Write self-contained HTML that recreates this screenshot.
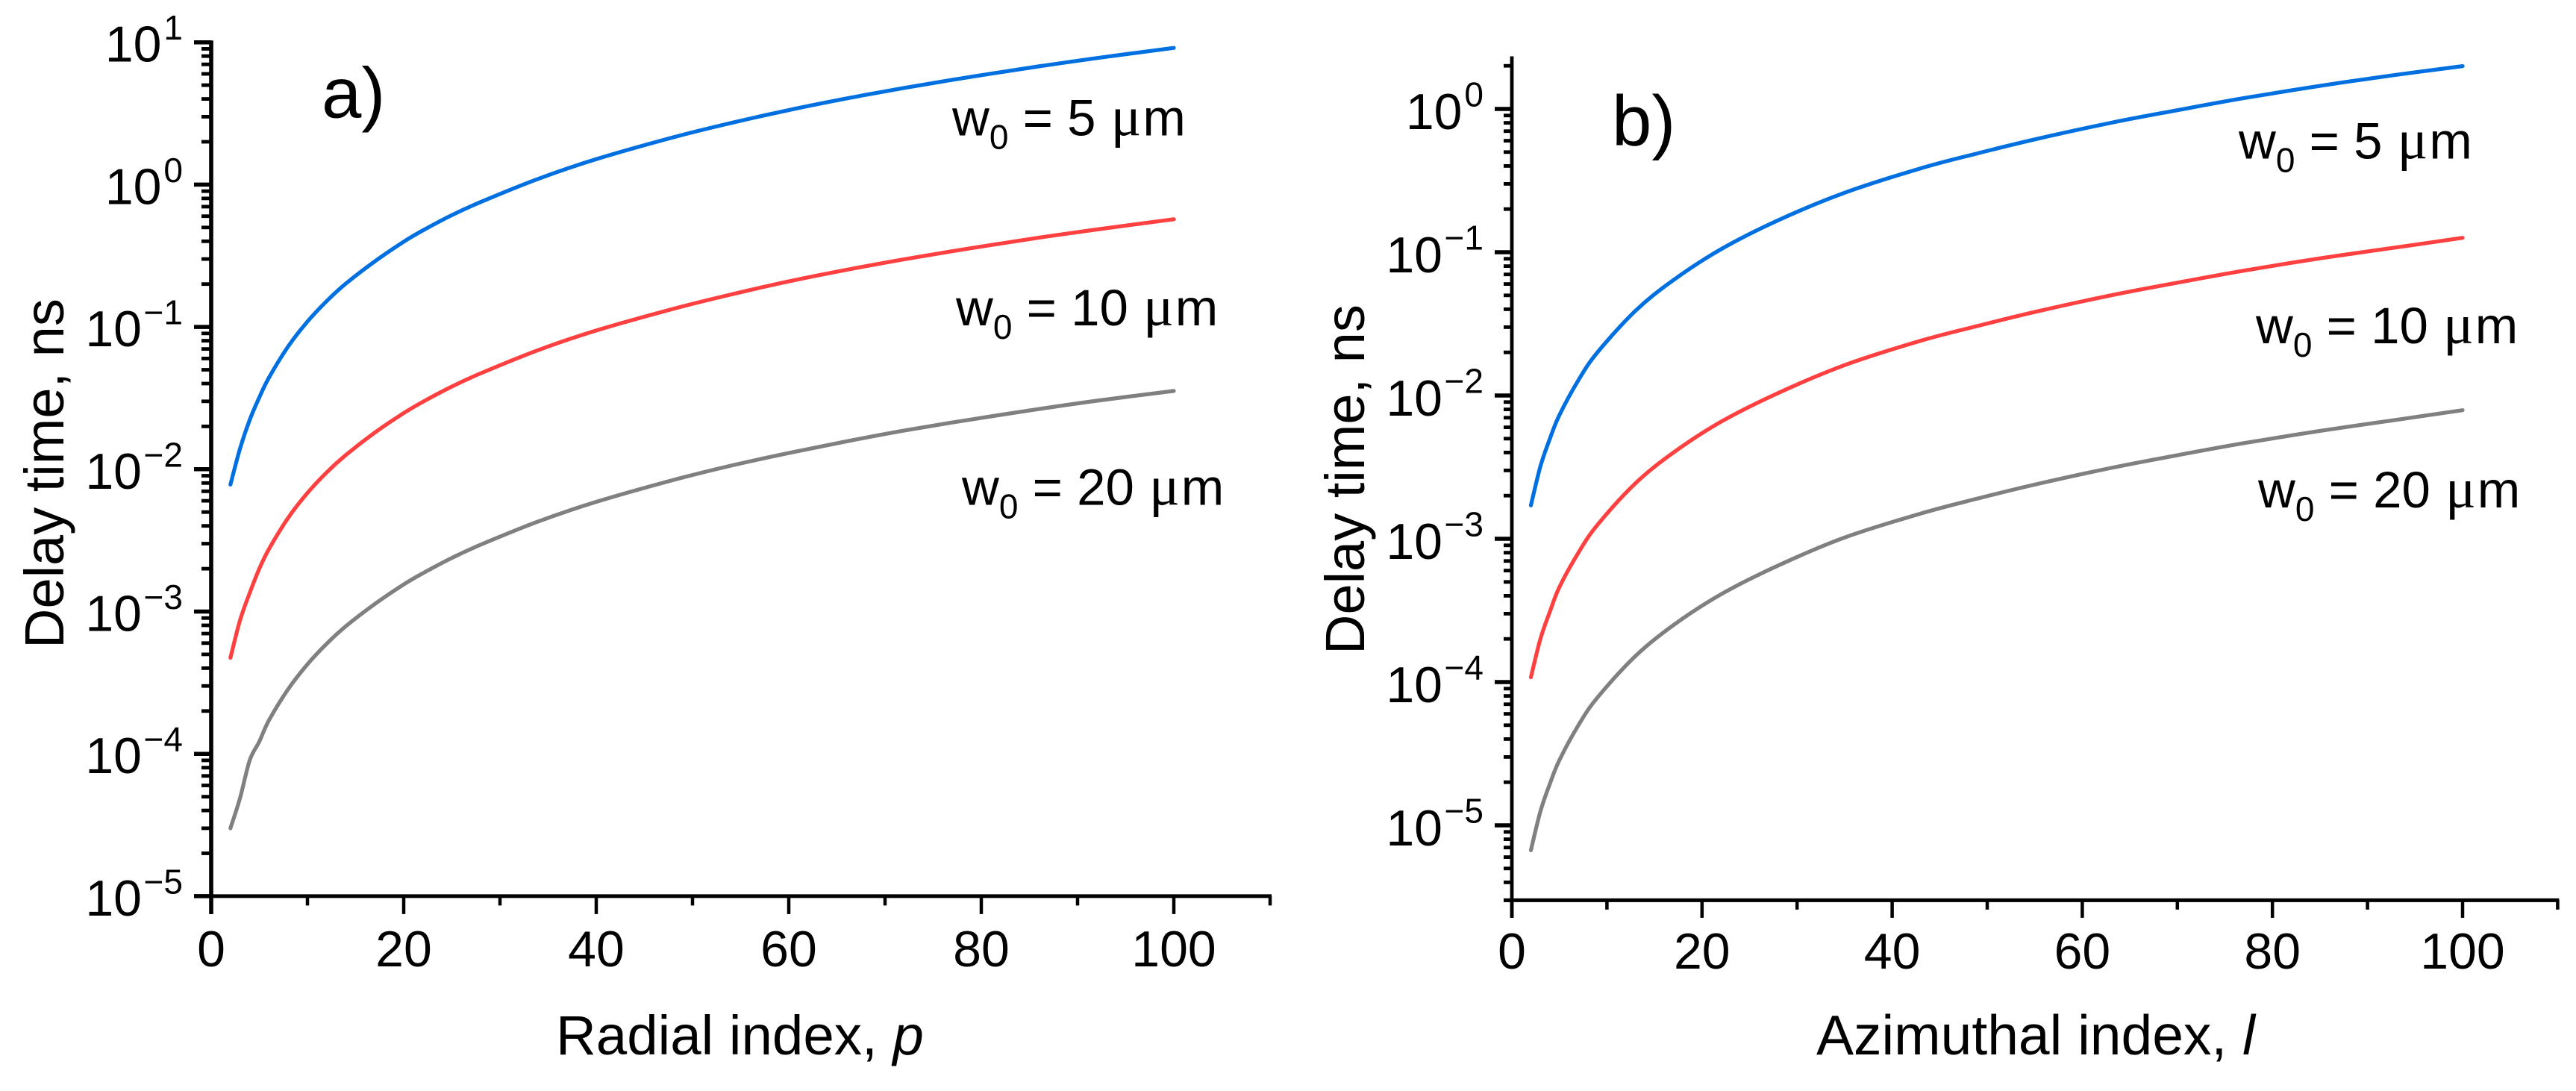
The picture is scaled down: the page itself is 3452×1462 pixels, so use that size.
<!DOCTYPE html>
<html lang="en">
<head>
<meta charset="utf-8">
<title>Delay time versus mode index</title>
<style>
html,body{margin:0;padding:0;background:#fff;}
svg{display:block;}
text{font-family:"Liberation Sans",sans-serif;fill:#000;white-space:pre;}
.mu{font-family:"Liberation Serif",serif;font-size:76px;}
.um{font-size:69px;}
</style>
</head>
<body>
<svg id="figure" xmlns="http://www.w3.org/2000/svg" width="3452" height="1462" viewBox="0 0 3452 1462">
<rect x="0" y="0" width="3452" height="1462" fill="#fff"/>
<g id="panel-a"></g>
<g id="panel-b"></g>

<text x="431" y="157.5" font-size="96">a)</text>
<text x="2160" y="195" font-size="96">b)</text>

<text x="745" y="1413" font-size="74.5">Radial index, <tspan font-style="italic">p</tspan></text>
<text x="2434" y="1413" font-size="75">Azimuthal index, <tspan font-style="italic">l</tspan></text>

<text transform="translate(85,869) rotate(-90)" font-size="74">Delay time, ns</text>
<text transform="translate(1828,877) rotate(-90)" font-size="74">Delay time, ns</text>

<text x="1276" y="181.5" font-size="69">w<tspan font-size="46" dy="18">0</tspan><tspan dy="-18"> = 5 </tspan><tspan class="mu" dx="1">μ</tspan><tspan class="um" dx="2">m</tspan></text>
<text x="1281" y="436" font-size="69">w<tspan font-size="46" dy="18">0</tspan><tspan dy="-18"> = 10 </tspan><tspan class="mu" dx="1">μ</tspan><tspan class="um" dx="2">m</tspan></text>
<text x="1289" y="676.5" font-size="69">w<tspan font-size="46" dy="18">0</tspan><tspan dy="-18"> = 20 </tspan><tspan class="mu" dx="1">μ</tspan><tspan class="um" dx="2">m</tspan></text>

<text x="3000" y="212.5" font-size="69">w<tspan font-size="46" dy="18">0</tspan><tspan dy="-18"> = 5 </tspan><tspan class="mu" dx="1">μ</tspan><tspan class="um" dx="2">m</tspan></text>
<text x="3023" y="460" font-size="69">w<tspan font-size="46" dy="18">0</tspan><tspan dy="-18"> = 10 </tspan><tspan class="mu" dx="1">μ</tspan><tspan class="um" dx="2">m</tspan></text>
<text x="3026" y="680" font-size="69">w<tspan font-size="46" dy="18">0</tspan><tspan dy="-18"> = 20 </tspan><tspan class="mu" dx="1">μ</tspan><tspan class="um" dx="2">m</tspan></text>
</svg>

<script>
// Shared x-axis tick values
const xMajorTicks = [0, 20, 40, 60, 80, 100];
const xMinorTicks = [10, 30, 50, 70, 90, 110];

// Panel a: radial index p
const radialIndex = [2,3,4,5,6,8,10,12,14,17,20,22,25,28,34,40,48,54,60,66,72,79,86,92,100];
const radialDelay5um = [0.0078,0.014,0.0222,0.032,0.044,0.073,0.109,0.152,0.202,0.289,0.397,0.477,0.61,0.755,1.1,1.51,2.15,2.71,3.34,4.03,4.78,5.73,6.78,7.75,9.14];
const radialDelay10um = [0.000473,0.00087,0.00135,0.002,0.00275,0.00456,0.00681,0.0095,0.0126,0.0181,0.0248,0.0298,0.0381,0.0472,0.0688,0.0944,0.134,0.169,0.209,0.252,0.299,0.358,0.424,0.484,0.571];
const radialDelay20um = [0.00003,0.000049,0.00009,0.000122,0.000172,0.000285,0.000426,0.000594,0.00079,0.00113,0.00155,0.00186,0.00238,0.00295,0.0043,0.0059,0.0084,0.0106,0.013,0.0157,0.0187,0.0224,0.0265,0.0303,0.0355];
const panelADecades = [1, 0, -1, -2, -3, -4, -5];

// Panel b: azimuthal index l
const azimuthalIndex = [2,3,4,5,7,9,13,17,22,28,35,43,49,55,63,70,77,85,93,100];
const azimuthalDelay5um = [0.00171,0.0032,0.005,0.0073,0.0128,0.02,0.039,0.064,0.105,0.167,0.26,0.385,0.49,0.613,0.8,0.98,1.19,1.45,1.73,1.99];
const azimuthalDelay10um = [0.000108,0.0002,0.00031,0.00046,0.0008,0.00125,0.00244,0.004,0.00656,0.0104,0.0163,0.0241,0.0306,0.0383,0.05,0.0613,0.0744,0.0906,0.108,0.126];
const azimuthalDelay20um = [0.0000067,0.0000125,0.0000195,0.0000285,0.00005,0.000078,0.000152,0.00025,0.00041,0.00065,0.00102,0.0015,0.00191,0.00239,0.00312,0.00383,0.00465,0.00566,0.00676,0.0079];
const panelBDecades = [0, -1, -2, -3, -4, -5];

const SVG_NS = 'http://www.w3.org/2000/svg';

function make(parent, tag, attrs, content) {
  const el = document.createElementNS(SVG_NS, tag);
  Object.keys(attrs).forEach(function (k) { el.setAttribute(k, attrs[k]); });
  if (content !== undefined) el.textContent = content;
  parent.appendChild(el);
  return el;
}

// Catmull-Rom path through the projected data points
function smoothPath(pts) {
  let d = 'M' + pts[0][0].toFixed(2) + ' ' + pts[0][1].toFixed(2);
  for (let i = 0; i < pts.length - 1; i++) {
    const p0 = pts[Math.max(i - 1, 0)];
    const p1 = pts[i];
    const p2 = pts[i + 1];
    const p3 = pts[Math.min(i + 2, pts.length - 1)];
    const c1x = p1[0] + (p2[0] - p0[0]) / 6;
    const c1y = p1[1] + (p2[1] - p0[1]) / 6;
    const c2x = p2[0] - (p3[0] - p1[0]) / 6;
    const c2y = p2[1] - (p3[1] - p1[1]) / 6;
    d += ' C' + c1x.toFixed(2) + ' ' + c1y.toFixed(2) + ' ' + c2x.toFixed(2) + ' ' + c2y.toFixed(2) + ' ' + p2[0].toFixed(2) + ' ' + p2[1].toFixed(2);
  }
  return d;
}

function drawPanel(cfg) {
  const root = document.getElementById(cfg.id);
  const xScale = function (v) { return cfg.x0 + cfg.xUnit * v; };
  const yScale = function (v) { return cfg.yRef + (cfg.refExp - Math.log10(v)) * cfg.decade; };
  const yLo = yScale(cfg.yMin);
  const yHi = yScale(cfg.yMax);
  const xEnd = xScale(110);

  // Series
  cfg.series.forEach(function (s) {
    const pts = s.values.map(function (v, i) {
      return [xScale(cfg.index[i]), yScale(v)];
    });
    const path = make(root, 'path', { d: smoothPath(pts), fill: 'none', stroke: s.color, 'stroke-width': 5.2, 'stroke-linejoin': 'round', 'stroke-linecap': 'round' });
    
    
  });

  // Axis lines
  const yAxis = make(root, 'line', { x1: cfg.x0, x2: cfg.x0, y1: yHi - 2.5, y2: yLo + cfg.xMajorLen, stroke: '#000', 'stroke-width': cfg.axisW });
  
  
  const xAxis = make(root, 'line', { x1: cfg.x0 - cfg.yBaseTick, x2: xEnd + 2, y1: yLo, y2: yLo, stroke: '#000', 'stroke-width': 5 });
  
  

  // X ticks
  xMajorTicks.forEach(function (v) {
    const t = make(root, 'line', { x1: xScale(v), x2: xScale(v), y1: yLo, y2: yLo + cfg.xMajorLen, stroke: '#000', 'stroke-width': 4.5 });
    
    
    const lab = make(root, 'text', { x: xScale(v), y: cfg.xLabelY, 'font-size': 68, 'text-anchor': 'middle' }, String(v));
    
    
  });
  xMinorTicks.forEach(function (v) {
    const t = make(root, 'line', { x1: xScale(v), x2: xScale(v), y1: yLo, y2: yLo + 12.5, stroke: '#000', 'stroke-width': 4.5 });
    
    
  });

  // Y ticks
  cfg.decades.forEach(function (e) {
    const y = yScale(Math.pow(10, e));
    const t = make(root, 'line', { x1: cfg.x0 - 23, x2: cfg.x0, y1: y, y2: y, stroke: '#000', 'stroke-width': 5.5 });
    
    

    const supText = e < 0 ? '\u2212' + Math.abs(e) : String(e);
    const supWidth = e < 0 ? 52 : 25.5;
    const sup = make(root, 'text', { x: cfg.x0 - 38, y: y - 3.5, 'font-size': 46, 'text-anchor': 'end' }, supText);
    
    
    const base = make(root, 'text', { x: cfg.x0 - 38 - supWidth - 3, y: y + cfg.baseDrop, 'font-size': 68, 'text-anchor': 'end' }, '10');
    
    
  });
  for (let e = cfg.refExp + 1; e >= -7; e--) {
    for (let m = 2; m <= 9; m++) {
      const v = m * Math.pow(10, e);
      if (v > cfg.yMax * 1.001 || v < cfg.yMin * 0.999) continue;
      const y = yScale(v);
      const t = make(root, 'line', { x1: cfg.x0 - cfg.yMinorLen, x2: cfg.x0, y1: y, y2: y, stroke: '#000', 'stroke-width': 4.8 });
      
      
    }
  }
}

drawPanel({
  id: 'panel-a', x0: 283, xUnit: 12.9, yRef: 56.7, refExp: 1, decade: 190.7,
  yMin: 1e-5, yMax: 10, axisW: 5.6, xMajorLen: 24, yMinorLen: 13, yBaseTick: 23,
  xLabelY: 1295, baseDrop: 26, decades: panelADecades, index: radialIndex,
  series: [
    { name: 'series-w0-20um', color: '#808080', values: radialDelay20um },
    { name: 'series-w0-10um', color: '#ff4040', values: radialDelay10um },
    { name: 'series-w0-5um', color: '#0070e0', values: radialDelay5um }
  ]
});

drawPanel({
  id: 'panel-b', x0: 2026, xUnit: 12.74, yRef: 146, refExp: 0, decade: 192,
  yMin: 3e-6, yMax: 2.26, axisW: 4.8, xMajorLen: 23.5, yMinorLen: 11, yBaseTick: 11,
  xLabelY: 1298, baseDrop: 27, decades: panelBDecades, index: azimuthalIndex,
  series: [
    { name: 'series-w0-20um', color: '#808080', values: azimuthalDelay20um },
    { name: 'series-w0-10um', color: '#ff4040', values: azimuthalDelay10um },
    { name: 'series-w0-5um', color: '#0070e0', values: azimuthalDelay5um }
  ]
});
</script>
</body>
</html>
